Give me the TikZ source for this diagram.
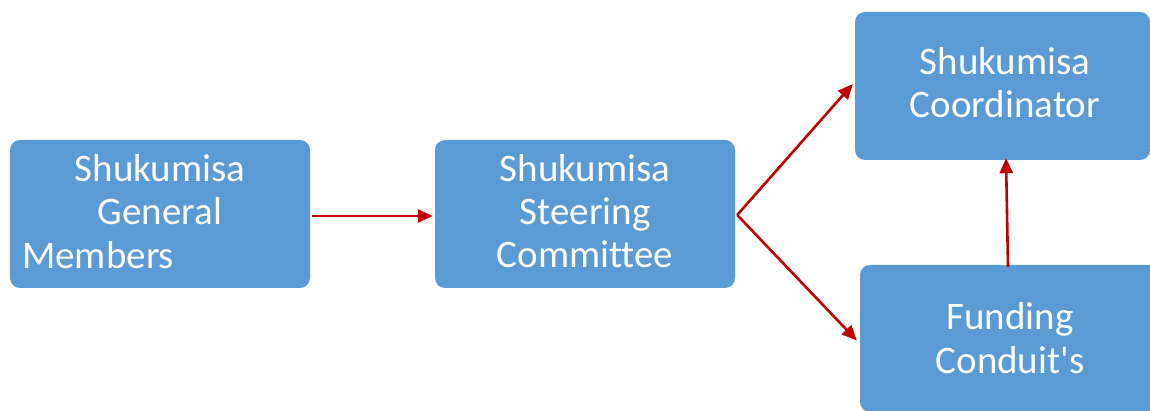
\documentclass[tikz,border=0pt]{standalone}
\usepackage{fontspec}
\setmainfont{Carlito}[Ligatures={NoCommon,TeXOff}]
\usetikzlibrary{arrows.meta}
\definecolor{boxblue}{HTML}{5B9BD5}
\definecolor{arrred}{HTML}{C00000}
\begin{document}
\begin{tikzpicture}[x=1pt,y=-1pt,
  box/.style={fill=boxblue,draw=none,rounded corners=10pt,minimum width=300pt,minimum height=148pt,inner sep=0pt,anchor=center},
  txt/.style={text=white,font=\fontsize{39}{43}\selectfont,anchor=base,inner sep=0pt},
  conn/.style={draw=arrred,line width=2.6pt,-{Triangle[length=15pt,width=13pt]}}]
\useasboundingbox (0,0) rectangle (1150,411);
\clip (0,0) rectangle (1150,411);
\node[box] (b1) at (160,214) {};
\node[box] (b2) at (585,214) {};
\node[box,minimum width=295pt] (b3) at (1002.5,86) {};
\node[box,minimum height=147pt] (b4) at (1010,338.5) {};
% texts
\node[txt] (t1a) at (160,182) {Shukumisa};
\node[txt] (t1b) at (160,225) {General};
\node[txt,anchor=base west] (t1c) at (22,269) {Members};
\node[txt] (t2a) at (585,182) {Shukumisa};
\node[txt] (t2b) at (585,225) {Steering};
\node[txt] (t2c) at (585,268) {Committee};
\node[txt] (t3a) at (1005,75) {Shukumisa};
\node[txt] (t3b) at (1005,118) {Coordinator};
\node[txt] (t4a) at (1010,330) {Funding};
\node[txt] (t4b) at (1010,373) {Conduit's};
% connectors
\draw[conn] ([xshift=2pt,yshift=-2pt]b1.east) -- ([xshift=-2pt,yshift=-2pt]b2.west);
\draw[conn] ([xshift=2pt,yshift=-1pt]b2.east) -- ([xshift=-2pt,yshift=2pt]b3.west);
\draw[conn] ([xshift=2pt,yshift=-1pt]b2.east) -- ([xshift=-3pt,yshift=-2pt]b4.west);
\draw[conn] ([xshift=-2pt,yshift=-2pt]b4.north) -- ([xshift=3.5pt,yshift=2pt]b3.south);
\end{tikzpicture}
\end{document}
